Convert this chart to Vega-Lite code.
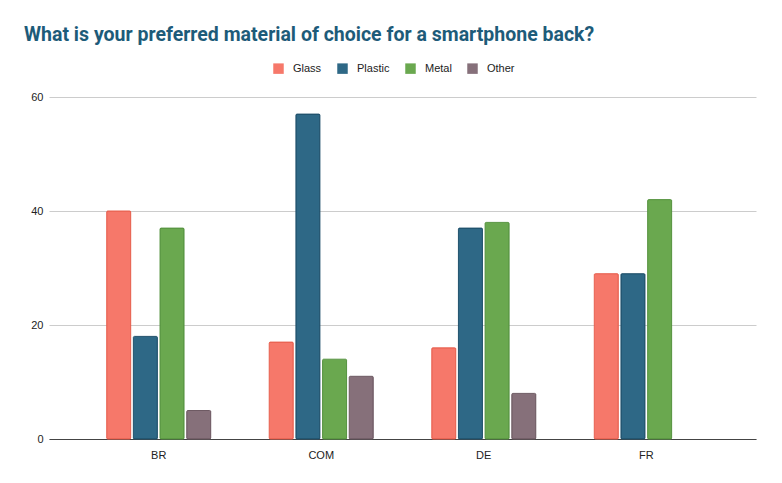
{
  "$schema": "https://vega.github.io/schema/vega-lite/v6.json",
  "autosize": "none",
  "width": 707,
  "height": 342,
  "padding": {"left": 49, "top": 97, "right": 26, "bottom": 44},
  "background": "white",
  "config": {"view": {"stroke": null}},
  "title": {
    "text": "What is your preferred material of choice for a smartphone back?",
    "anchor": "start",
    "frame": "group",
    "orient": "top",
    "dx": -25,
    "offset": 18,
    "font": "Roboto",
    "fontSize": 19.5,
    "fontWeight": "bold",
    "color": "#1d5b79"
  },
  "data": {
    "values": [
      {"region": "BR", "material": "Glass", "value": 40},
      {"region": "BR", "material": "Plastic", "value": 18},
      {"region": "BR", "material": "Metal", "value": 37},
      {"region": "BR", "material": "Other", "value": 5},
      {"region": "COM", "material": "Glass", "value": 17},
      {"region": "COM", "material": "Plastic", "value": 57},
      {"region": "COM", "material": "Metal", "value": 14},
      {"region": "COM", "material": "Other", "value": 11},
      {"region": "DE", "material": "Glass", "value": 16},
      {"region": "DE", "material": "Plastic", "value": 37},
      {"region": "DE", "material": "Metal", "value": 38},
      {"region": "DE", "material": "Other", "value": 8},
      {"region": "FR", "material": "Glass", "value": 29},
      {"region": "FR", "material": "Plastic", "value": 29},
      {"region": "FR", "material": "Metal", "value": 42}
    ]
  },
  "mark": {"type": "bar", "strokeWidth": 1, "cornerRadius": 1},
  "encoding": {
    "x": {
      "field": "region",
      "type": "nominal",
      "sort": ["BR", "COM", "DE", "FR"],
      "scale": {"paddingInner": 0.36, "paddingOuter": 0.355},
      "axis": {
        "title": null,
        "labelAngle": 0,
        "ticks": false,
        "domainColor": "#444444",
        "domainWidth": 1,
        "labelFont": "Liberation Sans",
        "labelFontSize": 11,
        "labelColor": "#222222",
        "labelPadding": 10
      }
    },
    "xOffset": {
      "field": "material",
      "type": "nominal",
      "sort": ["Glass", "Plastic", "Metal", "Other"],
      "scale": {"domain": ["Glass", "Plastic", "Metal", "Other"], "paddingInner": 0.1}
    },
    "y": {
      "field": "value",
      "type": "quantitative",
      "scale": {"domain": [0, 60]},
      "axis": {
        "title": null,
        "values": [0, 20, 40, 60],
        "domain": false,
        "ticks": false,
        "gridColor": "#cccccc",
        "labelFont": "Liberation Sans",
        "labelFontSize": 11,
        "labelColor": "#222222",
        "labelPadding": 6
      }
    },
    "color": {
      "field": "material",
      "type": "nominal",
      "sort": ["Glass", "Plastic", "Metal", "Other"],
      "scale": {
        "domain": ["Glass", "Plastic", "Metal", "Other"],
        "range": ["#f6786a", "#2e6886", "#6aa84f", "#86707a"]
      },
      "legend": {
        "title": null,
        "orient": "none",
        "direction": "horizontal",
        "legendX": 224,
        "legendY": -34,
        "symbolType": "square",
        "symbolSize": 110,
        "symbolStrokeWidth": 0,
        "labelFont": "Liberation Sans",
        "labelFontSize": 11,
        "labelColor": "#222222",
        "labelOffset": 9,
        "columnPadding": 15
      }
    },
    "stroke": {
      "field": "material",
      "type": "nominal",
      "scale": {
        "domain": ["Glass", "Plastic", "Metal", "Other"],
        "range": ["#e8604f", "#1f506b", "#579440", "#6e5a63"]
      },
      "legend": null
    }
  }
}
